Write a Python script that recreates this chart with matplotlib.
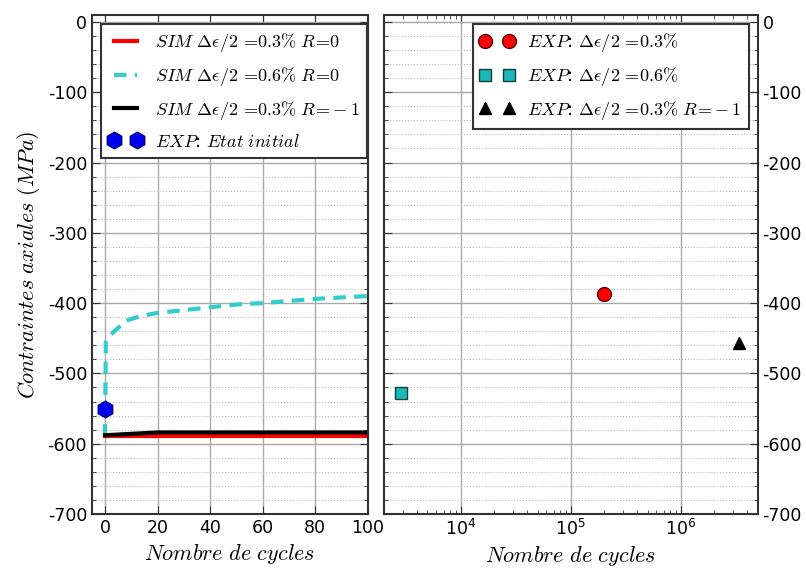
import matplotlib
matplotlib.use('Agg')
import matplotlib.pyplot as plt
from matplotlib.ticker import MultipleLocator, LogLocator, NullFormatter, FuncFormatter

plt.rcParams['mathtext.fontset'] = 'cm'
plt.rcParams['font.family'] = 'DejaVu Sans'

# Left panel : simulated cyclic evolution (first 100 cycles)
sim03_x = [0, 10, 20, 40, 60, 80, 100]
sim03_y = [-589, -589, -589, -589, -589, -589, -589]

sim06_x = [0, 0.3, 1, 3, 8, 14, 20, 30, 40, 50, 60, 70, 80, 90, 100]
sim06_y = [-590, -455, -450, -442, -425, -418, -414, -410, -406, -402, -400, -397, -394, -392, -390]

sim03m1_x = [0, 10, 20, 40, 60, 80, 100]
sim03m1_y = [-588, -586, -584, -584, -584, -584, -584]

exp_init_x = [0]
exp_init_y = [-550]

# Right panel : experimental points vs number of cycles (log scale)
exp03_x = [2.0e5]
exp03_y = [-387]
exp06_x = [2.85e3]
exp06_y = [-528]
exp03m1_x = [3.4e6]
exp03m1_y = [-457]

spine_col = '#333333'
fig = plt.figure(figsize=(8.06, 5.73), dpi=100)
ax1 = fig.add_axes([0.114, 0.103, 0.342, 0.871])
ax2 = fig.add_axes([0.476, 0.103, 0.464, 0.871])

ax1.plot(sim03_x, sim03_y, color='red', lw=3, label=r'$SIM\ \Delta\epsilon/2\,=\!0.3\%\ R\!=\!0$')
ax1.plot(sim06_x, sim06_y, color=(0.2, 0.8, 0.8), lw=3, ls='--', dashes=(3, 2),
         label=r'$SIM\ \Delta\epsilon/2\,=\!0.6\%\ R\!=\!0$')
ax1.plot(sim03m1_x, sim03m1_y, color='black', lw=3, label=r'$SIM\ \Delta\epsilon/2\,=\!0.3\%\ R\!=\!-1$')
ax1.plot(exp_init_x, exp_init_y, ls='none', marker='h', ms=12, color='#0000ee', mec='#000088',
         label=r'$EXP$: $Etat\ initial$')

ax2.plot(exp03_x, exp03_y, ls='none', marker='o', ms=10, color='red', mec='#550000',
         label=r'$EXP$: $\Delta\epsilon/2\,=\!0.3\%$')
ax2.plot(exp06_x, exp06_y, ls='none', marker='s', ms=9, color=(0.1, 0.72, 0.72), mec='#104040',
         label=r'$EXP$: $\Delta\epsilon/2\,=\!0.6\%$')
ax2.plot(exp03m1_x, exp03m1_y, ls='none', marker='^', ms=9, color='black',
         label=r'$EXP$: $\Delta\epsilon/2\,=\!0.3\%\ R\!=\!-1$')

ax1.set_xlim(-5, 100)
ax1.xaxis.set_major_locator(MultipleLocator(20))
ax2.set_xscale('log')
ax2.set_xlim(2e3, 5e6)
ax2.xaxis.set_major_locator(LogLocator(base=10, numticks=10))
ax2.xaxis.set_minor_locator(LogLocator(base=10, subs=range(2, 10), numticks=20))
ax2.xaxis.set_minor_formatter(NullFormatter())

for ax in (ax1, ax2):
    ax.set_ylim(-700, 10)
    ax.yaxis.set_major_locator(MultipleLocator(100))
    ax.yaxis.set_minor_locator(MultipleLocator(20))
    ax.yaxis.set_major_formatter(FuncFormatter(lambda v, p: f'{int(v)}'))
    ax.grid(True, which='major', color='#aaaaaa', lw=1, ls='-')
    ax.grid(True, which='minor', axis='y', color='#bbbbbb', lw=0.8, ls=':')
    ax.set_axisbelow(True)
    for s in ax.spines.values():
        s.set_color(spine_col)
        s.set_linewidth(1.5)
    ax.tick_params(which='both', direction='in', top=True, right=True, left=True,
                   colors=spine_col, labelcolor='black', labelsize=12.5)
    ax.tick_params(which='major', length=6)
    ax.tick_params(which='minor', length=3)
    ax.set_xlabel(r'$Nombre\ de\ cycles$', fontsize=16)

ax1.set_ylabel(r'$Contraintes\ axiales\ (MPa)$', fontsize=16)
ax2.yaxis.tick_right()
ax2.tick_params(which='both', left=True, right=True)

for ax, loc in ((ax1, 'upper left'), (ax2, 'upper right')):
    leg = ax.legend(loc=loc, numpoints=2, fancybox=False, fontsize=13, framealpha=1,
                    borderaxespad=0.5, handlelength=1.9, handletextpad=0.7,
                    labelspacing=0.6)
    leg.get_frame().set_edgecolor(spine_col)
    leg.get_frame().set_linewidth(1.5)

plt.savefig('out.png', dpi=100)
plt.close()
